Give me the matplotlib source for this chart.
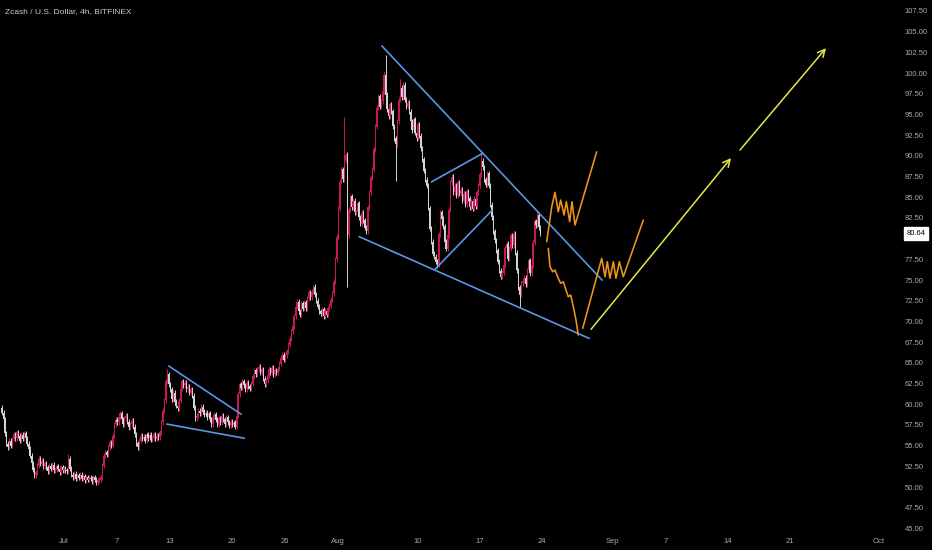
import matplotlib
matplotlib.use("Agg")
import matplotlib.pyplot as plt
import matplotlib.dates as mdates
import numpy as np
import pandas as pd

# ---- data ----
start = "2020-06-24"
base = "2020-07-01"   # trendline x values are days since this date

# 4h closes, one row per day (00, 04, 08, 12, 16, 20)
closes = [
    [59.0, 58.2, 56.5, 55.2, 54.8, 55.6],  # Jun 24
    [55.0, 55.8, 56.4, 55.9, 56.6, 56.2],
    [55.6, 56.3, 55.8, 56.5, 55.9, 55.2],
    [54.6, 53.8, 52.9, 52.1, 51.4, 51.8],
    [52.6, 53.4, 52.8, 53.2, 52.5, 52.9],
    [52.4, 51.9, 52.6, 52.2, 52.7, 52.0],
    [52.1, 52.5, 52.2, 51.8, 52.4, 52.0],  # Jun 30
    [52.3, 52.0, 51.9, 53.4, 52.2, 51.5],  # Jul 1
    [51.2, 51.6, 51.0, 51.4, 51.1, 51.5],
    [51.0, 51.3, 50.8, 51.2, 50.9, 51.1],
    [51.0, 50.7, 51.2, 50.9, 50.5, 50.8],
    [50.9, 51.2, 52.6, 53.8, 54.2, 53.9],
    [54.8, 55.4, 55.0, 56.2, 57.6, 58.1],
    [57.8, 58.4, 58.9, 58.2, 57.6, 58.3],
    [58.6, 57.9, 57.2, 57.6, 58.0, 57.3],
    [56.4, 55.3, 54.8, 55.6, 56.2, 55.8],
    [56.1, 55.6, 56.4, 55.9, 56.3, 55.7],
    [55.9, 56.4, 55.8, 56.2, 56.0, 56.6],
    [57.8, 59.2, 60.5, 62.8, 63.6, 62.4],  # Jul 12
    [61.8, 60.6, 61.4, 60.3, 59.8, 59.5],
    [60.4, 61.9, 62.8, 62.3, 62.6, 61.8],
    [62.1, 61.4, 61.8, 61.0, 59.6, 58.3],
    [58.6, 59.2, 58.9, 59.7, 59.1, 58.7],
    [59.0, 58.4, 58.9, 58.2, 57.6, 58.5],
    [58.8, 58.1, 57.5, 58.3, 57.8, 58.6],
    [58.2, 57.6, 58.4, 57.8, 57.4, 57.9],
    [57.5, 57.8, 57.3, 58.6, 61.2, 62.4],  # Jul 20
    [62.0, 62.8, 62.3, 61.8, 62.6, 62.2],
    [61.9, 62.5, 63.4, 64.1, 63.6, 64.2],
    [64.5, 63.8, 64.2, 63.1, 62.4, 62.9],
    [63.5, 64.2, 63.8, 64.4, 63.6, 64.1],
    [63.8, 64.3, 64.9, 65.6, 66.0, 65.4],
    [65.9, 66.4, 67.2, 67.9, 68.8, 69.4],
    [70.6, 71.8, 72.4, 71.2, 70.8, 72.2],
    [71.5, 72.3, 71.6, 72.8, 73.5, 72.9],
    [73.6, 74.1, 73.2, 72.5, 71.8, 71.2],
    [70.9, 71.5, 70.6, 71.3, 70.8, 71.6],
    [71.9, 72.6, 73.4, 74.8, 77.5, 80.2],  # Jul 31
    [83.6, 86.9, 88.4, 87.2, 89.4, 90.1],  # Aug 1
    [80.4, 83.5, 85.1, 83.8, 84.6, 83.2],
    [83.2, 84.3, 82.6, 81.8, 83.1, 82.2],
    [81.3, 80.9, 83.8, 85.6, 87.4, 88.3],
    [90.8, 93.5, 95.8, 97.2, 95.9, 96.6],
    [97.8, 99.8, 97.4, 95.6, 94.8, 96.2],
    [95.4, 93.6, 92.1, 91.4, 94.2, 96.8],
    [98.2, 97.1, 98.6, 96.8, 95.9, 96.4],
    [95.3, 94.2, 93.1, 94.4, 92.8, 92.1],
    [93.8, 92.4, 90.9, 89.6, 88.2, 87.1],  # Aug 10
    [86.4, 83.7, 81.2, 79.6, 78.2, 77.8],
    [77.2, 76.9, 80.5, 83.2, 82.4, 81.5],
    [79.6, 78.8, 80.4, 83.5, 86.8, 87.5],
    [85.6, 86.4, 85.2, 86.8, 85.4, 85.9],
    [84.6, 85.4, 84.1, 85.7, 84.9, 83.8],
    [84.5, 83.6, 84.8, 83.9, 85.6, 86.4],
    [87.8, 89.4, 88.6, 87.2, 86.5, 87.9],  # Aug 17
    [86.4, 84.1, 82.6, 80.9, 79.8, 78.6],
    [77.2, 76.1, 75.4, 75.9, 76.8, 78.9],
    [79.4, 77.6, 78.8, 80.4, 79.2, 80.6],
    [78.3, 76.2, 74.1, 73.2, 74.6, 74.9],
    [75.3, 74.5, 76.2, 77.4, 75.8, 76.8],
    [79.5, 82.1, 81.6, 82.8, 81.4, 80.64],  # Aug 23
]
first_open = 59.6

# long wicks: candle time -> (high, low), None keeps the default
spikes = {
    "2020-07-01 12:00": (54.0, None),
    "2020-07-12 16:00": (64.3, None),
    "2020-07-29 08:00": (74.5, None),
    "2020-08-01 16:00": (94.7, None),
    "2020-08-02 00:00": (90.5, 74.2),
    "2020-08-06 08:00": (102.2, None),
    "2020-08-07 12:00": (None, 87.0),
    "2020-08-08 00:00": (99.3, None),
    "2020-08-12 04:00": (None, 76.4),
    "2020-08-17 04:00": (90.4, None),
    "2020-08-21 12:00": (None, 71.7),
    "2020-08-23 12:00": (83.2, None),
}

# drawings, x = days since Jul 1, y = price
small_top_x, small_top_y = [11.86, 20.0], [64.6, 58.8]
small_bot_x, small_bot_y = [11.64, 20.34], [57.6, 55.9]
wedge_top_x, wedge_top_y = [35.93, 60.79], [103.26, 75.0]
wedge_bot_x, wedge_bot_y = [33.37, 59.32], [80.23, 67.96]
inner_top_x, inner_top_y = [41.55, 47.31], [86.87, 90.30]
inner_bot_x, inner_bot_y = [41.92, 48.33], [76.29, 83.37]

orange_a_x = [54.54, 55.11, 55.48, 55.85, 56.12, 56.50, 56.76, 57.14, 57.40, 57.74, 60.19]
orange_a_y = [79.63, 83.85, 85.59, 83.25, 84.66, 82.85, 84.46, 82.04, 84.46, 81.64, 90.49]
orange_b_x = [54.72, 54.92, 55.22, 55.48, 55.85, 56.12, 56.42, 56.72, 56.98, 57.25, 57.55, 57.85, 58.11]
orange_b_y = [78.83, 76.61, 76.0, 76.21, 75.21, 74.60, 74.79, 73.79, 72.98, 73.19, 71.78, 70.17, 68.36]
orange_c_x = [58.61, 60.76, 61.13, 61.39, 61.69, 62.07, 62.37, 62.75, 63.20, 65.46]
orange_c_y = [69.17, 77.62, 75.40, 77.21, 75.21, 77.21, 75.21, 77.21, 75.40, 82.25]

arrows = [((59.55, 69.05), (75.37, 89.73)), ((76.38, 90.70), (86.1, 103.0))]

y_ticks = np.arange(45, 107.6, 2.5)
x_tick_dates = ["2020-07-01", "2020-07-07", "2020-07-13", "2020-07-20", "2020-07-26",
                "2020-08-01", "2020-08-10", "2020-08-17", "2020-08-24", "2020-09-01",
                "2020-09-07", "2020-09-14", "2020-09-21", "2020-10-01"]
x_tick_labels = ["Jul", "7", "13", "20", "26", "Aug", "10", "17", "24", "Sep",
                 "7", "14", "21", "Oct"]
last_price = 80.64
title = "Zcash / U.S. Dollar, 4h, BITFINEX"

# ---- build candles ----
c = np.array(closes).ravel()
t = pd.date_range(start, periods=len(c), freq="4h")
o = np.concatenate([[first_open], c[:-1]])
hi = np.maximum(o, c) + 0.3
lo = np.minimum(o, c) - 0.3
for key, (h, l) in spikes.items():
    i = t.get_loc(pd.Timestamp(key))
    if h is not None:
        hi[i] = h
    if l is not None:
        lo[i] = l
x = mdates.date2num(t.to_pydatetime())
x0 = mdates.date2num(pd.Timestamp(base).to_pydatetime())

UP, DOWN = "#c8195e", "#d4d4d4"
BG, TXT = "#000000", "#a9abb3"
plt.rcParams["font.family"] = ["Liberation Sans", "DejaVu Sans"]

fig = plt.figure(figsize=(9.32, 5.5), dpi=100, facecolor=BG)
ax = fig.add_axes([0, 18 / 550, 893 / 932, 532 / 550])
ax.set_facecolor(BG)

up = c >= o
cols = np.where(up, UP, DOWN)
ax.vlines(x, lo, hi, colors=cols, lw=0.7, zorder=2)
body_lo = np.minimum(o, c)
body_h = np.maximum(np.abs(c - o), 0.15)
ax.bar(x, body_h, bottom=body_lo, width=0.14, color=cols, lw=0, zorder=3)

blue = "#5b95e3"
for xs, ys in [(small_top_x, small_top_y), (small_bot_x, small_bot_y),
               (wedge_top_x, wedge_top_y), (wedge_bot_x, wedge_bot_y),
               (inner_top_x, inner_top_y), (inner_bot_x, inner_bot_y)]:
    ax.plot(x0 + np.array(xs), ys, color=blue, lw=1.2, zorder=4)

orange = "#ef951c"
for xs, ys in [(orange_a_x, orange_a_y), (orange_b_x, orange_b_y), (orange_c_x, orange_c_y)]:
    ax.plot(x0 + np.array(xs), ys, color=orange, lw=1.15, zorder=4,
            solid_joinstyle="round", solid_capstyle="round")

yellow = "#e6e64a"
for (sx, sy), (ex, ey) in arrows:
    ax.annotate("", xy=(x0 + ex, ey), xytext=(x0 + sx, sy),
                arrowprops=dict(arrowstyle="->", color=yellow, lw=1.1,
                                mutation_scale=13, shrinkA=0, shrinkB=0), zorder=4)

ax.set_xlim(x0 - 7.23, x0 + 93.67)
ax.set_ylim(44.57, 108.82)

ax.yaxis.tick_right()
ax.set_yticks(y_ticks)
ax.set_yticklabels([f"{v:.2f}" for v in y_ticks])
ax.set_xticks([mdates.date2num(pd.Timestamp(d).to_pydatetime()) for d in x_tick_dates])
ax.set_xticklabels(x_tick_labels)
ax.tick_params(axis="y", length=0, pad=8.5, labelsize=5.5, labelcolor=TXT)
ax.tick_params(axis="x", length=0, pad=4, labelsize=5.5, labelcolor=TXT)
for s in ax.spines.values():
    s.set_visible(False)

ax.annotate(f"{last_price:.2f}", xy=(1, last_price), xycoords=("axes fraction", "data"),
            xytext=(16.5, 0), textcoords="offset points", ha="center", va="center",
            fontsize=5.5, color="black", annotation_clip=False, zorder=10,
            bbox=dict(boxstyle="square,pad=0.35", fc="white", ec="white"))

fig.text(5 / 932, 1 - 12 / 550, title, color="#c8cad0", fontsize=6, va="center", ha="left")

fig.savefig("out.png", dpi=100, facecolor=BG)
